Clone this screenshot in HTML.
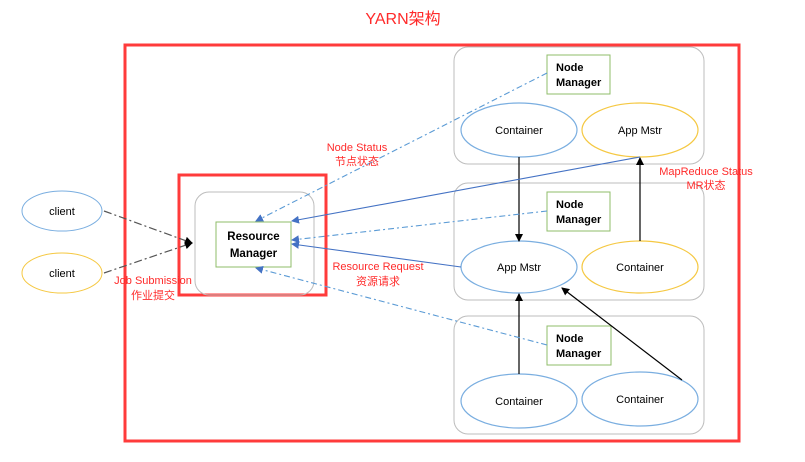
<!DOCTYPE html>
<html><head><meta charset="utf-8"><style>
html,body{margin:0;padding:0;background:#fff;}
svg text{font-family:"Liberation Sans","Noto Sans CJK SC",sans-serif;}
</style></head><body>
<svg width="805" height="457" xmlns="http://www.w3.org/2000/svg">
<defs>
<marker id="ab" markerWidth="8" markerHeight="8" refX="7" refY="4" orient="auto" markerUnits="userSpaceOnUse"><path d="M0,0 L8,4 L0,8 z" fill="#000"/></marker>
<marker id="au" markerWidth="8" markerHeight="8" refX="7" refY="4" orient="auto" markerUnits="userSpaceOnUse"><path d="M0,0 L8,4 L0,8 z" fill="#4472c4"/></marker>
</defs>
<text x="403" y="24" font-size="16" fill="#ff2a2a" text-anchor="middle">YARN架构</text>
<rect x="125" y="45" width="614" height="396" fill="none" stroke="#ff3b3b" stroke-width="3"/>
<rect x="179" y="175" width="147" height="120" fill="none" stroke="#ff3b3b" stroke-width="3"/>
<rect x="195" y="192" width="119" height="103" rx="14" fill="none" stroke="#bdbdbd"/>
<rect x="216" y="222" width="75" height="45" fill="#fff" stroke="#8fbc6a"/>
<text x="253.5" y="240" font-size="11.5" font-weight="bold" text-anchor="middle">Resource</text>
<text x="253.5" y="257" font-size="11.5" font-weight="bold" text-anchor="middle">Manager</text>
<ellipse cx="62" cy="211" rx="40" ry="20" fill="none" stroke="#7aaee0"/>
<text x="62" y="215" font-size="11" text-anchor="middle">client</text>
<ellipse cx="62" cy="273" rx="40" ry="20" fill="none" stroke="#f5c842"/>
<text x="62" y="277" font-size="11" text-anchor="middle">client</text>
<g fill="none" stroke="#bdbdbd">
<rect x="454" y="47" width="250" height="117" rx="14"/>
<rect x="454" y="183" width="250" height="117" rx="14"/>
<rect x="454" y="316" width="250" height="118" rx="14"/>
</g>
<g fill="#fff" stroke="#8fbc6a">
<rect x="547" y="55" width="63" height="39"/>
<rect x="547" y="192" width="63" height="39"/>
<rect x="547" y="326" width="64" height="39"/>
</g>
<g font-size="11" font-weight="bold">
<text x="556" y="71">Node</text><text x="556" y="86">Manager</text>
<text x="556" y="208">Node</text><text x="556" y="223">Manager</text>
<text x="556" y="342">Node</text><text x="556" y="357">Manager</text>
</g>
<g fill="none" stroke-width="1.2">
<ellipse cx="519" cy="130" rx="58" ry="27" stroke="#7aaee0"/>
<ellipse cx="640" cy="130" rx="58" ry="27" stroke="#f5c842"/>
<ellipse cx="519" cy="267" rx="58" ry="26" stroke="#7aaee0"/>
<ellipse cx="640" cy="267" rx="58" ry="26" stroke="#f5c842"/>
<ellipse cx="519" cy="401" rx="58" ry="27" stroke="#7aaee0"/>
<ellipse cx="640" cy="399" rx="58" ry="27" stroke="#7aaee0"/>
</g>
<g font-size="11" text-anchor="middle">
<text x="519" y="134">Container</text>
<text x="640" y="134">App Mstr</text>
<text x="519" y="271">App Mstr</text>
<text x="640" y="271">Container</text>
<text x="519" y="405">Container</text>
<text x="640" y="403">Container</text>
</g>
<g stroke="#000" stroke-width="1.2" marker-end="url(#ab)">
<line x1="519" y1="157" x2="519" y2="241"/>
<line x1="640" y1="241" x2="640" y2="158"/>
<line x1="519" y1="374" x2="519" y2="294"/>
<line x1="682" y1="380" x2="562" y2="288"/>
</g>
<g stroke="#555" stroke-width="1.2" stroke-dasharray="8,3,2,3" marker-end="url(#ab)">
<line x1="104" y1="211" x2="192" y2="243"/>
<line x1="104" y1="273" x2="192" y2="243"/>
</g>
<g stroke="#5b9bd5" stroke-width="1.1" stroke-dasharray="6,3,2,3" marker-end="url(#au)">
<line x1="547" y1="73" x2="256" y2="221"/>
<line x1="547" y1="211" x2="292" y2="240"/>
<line x1="547" y1="345" x2="256" y2="268"/>
</g>
<g stroke="#4472c4" stroke-width="1.1" marker-end="url(#au)">
<line x1="640" y1="157" x2="292" y2="221"/>
<line x1="461" y1="267" x2="292" y2="244"/>
</g>
<g fill="#ff2a2a" font-size="11" text-anchor="middle">
<text x="357" y="151">Node Status</text><text x="357" y="165">节点状态</text>
<text x="706" y="175">MapReduce Status</text><text x="706" y="189">MR状态</text>
<text x="378" y="270">Resource Request</text><text x="378" y="285">资源请求</text>
<text x="153" y="284">Job Submission</text><text x="153" y="299">作业提交</text>
</g>
</svg>
</body></html>
